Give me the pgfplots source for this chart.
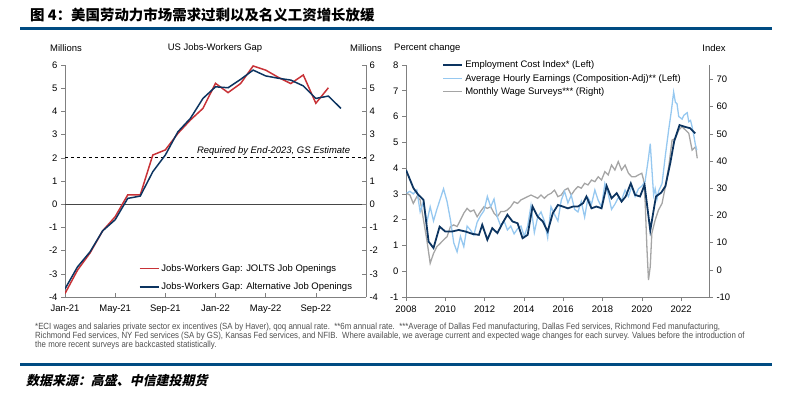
\documentclass[border=0pt]{standalone}
\usepackage{fontspec}
\setmainfont{Liberation Sans}
\newfontfamily\cjk{Noto Sans CJK SC}
\newfontfamily\cjksl{Noto Sans CJK SC}[FakeSlant=0.22]
\newfontfamily\narrowfont{Liberation Sans}[FakeStretch=0.875]
\usepackage{pgfplots}
\pgfplotsset{compat=1.18}
\definecolor{cRed}{RGB}{200,50,55}
\definecolor{cNavy}{RGB}{12,52,96}
\definecolor{cLight}{RGB}{150,200,240}
\definecolor{cGray}{RGB}{165,165,165}
\definecolor{cAxis}{RGB}{128,128,128}
\definecolor{cZero}{RGB}{70,70,70}
\definecolor{cRule}{RGB}{0,75,130}
\definecolor{cFoot}{RGB}{80,80,80}
\pgfplotsset{
  base/.style={
    scale only axis, anchor=south west, height=232bp,
    font=\fontsize{9.5}{11}\selectfont,
    /pgf/number format/assume math mode=true,
    /pgf/number format/1000 sep={},
    axis line style={-, cAxis, line width=0.8pt},
    tick style={cAxis, line width=0.6pt},
    major tick length=4bp,
    legend cell align=left,
    legend image code/.code={\draw[##1] (0bp,0bp) -- (19bp,0bp);},
  },
}
\begin{document}
\begin{tikzpicture}[x=1bp,y=1bp]
\path[use as bounding box] (0,0) rectangle (788,394);
% rules
\fill[cRule] (20,363.5) rectangle (772,366.5);
\fill[cRule] (20,28.5) rectangle (772,31.5);
\node[anchor=west, inner sep=0pt, font=\cjk\bfseries\fontsize{14.5}{16}\selectfont] at (30,379) {图 4：美国劳动力市场需求过剩以及名义工资增长放缓};
\node[anchor=west, inner sep=0pt, font=\cjksl\bfseries\fontsize{13}{15}\selectfont] at (26,13) {数据来源：高盛、中信建投期货};
% footnotes
\node[anchor=west, inner sep=0pt, text=cFoot, font=\narrowfont\fontsize{9}{9}\selectfont] at (35,67) {*ECI wages and salaries private sector ex incentives (SA by Haver), qoq annual rate.\ \ **6m annual rate.\ \ ***Average of Dallas Fed manufacturing, Dallas Fed services, Richmond Fed manufacturing,};
\node[anchor=west, inner sep=0pt, text=cFoot, font=\narrowfont\fontsize{9}{9}\selectfont] at (35,58) {Richmond Fed services, NY Fed services (SA by GS), Kansas Fed services, and NFIB.\ \ Where available, we average current and expected wage changes for each survey. Values before the introduction of};
\node[anchor=west, inner sep=0pt, text=cFoot, font=\narrowfont\fontsize{9}{9}\selectfont] at (35,49) {the more recent surveys are backcasted statistically.};
% titles
\node[font=\fontsize{9.5}{11}\selectfont] at (66,346) {Millions};
\node[font=\fontsize{9.5}{11}\selectfont] at (366,346) {Millions};
\node[font=\fontsize{9.5}{11}\selectfont] at (215,346) {US Jobs-Workers Gap};
\node[anchor=west, inner sep=0pt, font=\fontsize{9.5}{11}\selectfont] at (394,346) {Percent change};
\node[font=\fontsize{9.5}{11}\selectfont] at (714,346) {Index};

% ---------- left chart ----------
\begin{axis}[base, at={(65bp,97bp)}, width=301bp,
  xmin=0, xmax=24, ymin=-4, ymax=6,
  axis x line*=bottom, axis y line*=left,
  xtick={0,4,8,12,16,20},
  xticklabels={Jan-21,May-21,Sep-21,Jan-22,May-22,Sep-22},
  xticklabel style={yshift=-4.5bp},
  ytick={-4,-3,...,6},
  xtick align=inside, ytick align=outside,
  legend style={at={(0.235,0.158)}, anchor=north west, draw=none, fill=none,
    row sep=6bp, font=\fontsize{9.5}{11}\selectfont},
]
\addplot[black, dashed, line width=0.7pt, forget plot] coordinates {(0,2) (24,2)};
\addplot[cZero, line width=0.8pt, forget plot] coordinates {(0,0) (24,0)};
\addplot[cRed, line width=1.5pt] coordinates {
(0,-3.85)(1,-2.84)(2,-2.10)(3,-1.15)(4,-0.54)(5,0.40)(6,0.40)(7,2.12)(8,2.34)(9,3.05)(10,3.63)(11,4.13)
(12,5.21)(13,4.81)(14,5.20)(15,5.96)(16,5.78)(17,5.47)(18,5.20)(19,5.57)(20,4.35)(21,5.02)};
\addlegendentry{Jobs-Workers Gap: JOLTS Job Openings}
\addplot[cNavy, line width=1.5pt] coordinates {
(0,-3.65)(1,-2.70)(2,-2.05)(3,-1.15)(4,-0.67)(5,0.25)(6,0.35)(7,1.40)(8,2.12)(9,3.12)(10,3.70)(11,4.56)
(12,5.06)(13,5.02)(14,5.38)(15,5.78)(16,5.53)(17,5.43)(18,5.35)(19,5.10)(20,4.56)(21,4.66)(22,4.13)};
\addlegendentry{Jobs-Workers Gap: Alternative Job Openings}
\node[anchor=base east, inner sep=0pt, yshift=4.5bp, font=\itshape\fontsize{9.5}{11}\selectfont] at (axis cs:22.75,2) {Required by End-2023, GS Estimate};
\end{axis}
\begin{axis}[base, at={(65bp,97bp)}, width=301bp,
  xmin=0, xmax=24, ymin=-4, ymax=6,
  axis y line*=right, axis x line=none,
  ytick={-4,-3,...,6}, ytick align=inside,
]
\addplot[draw=none] coordinates {(0,0)};
\end{axis}

% ---------- right chart ----------
\begin{axis}[base, at={(406bp,97bp)}, width=303bp,
  xmin=2008, xmax=2023.42, ymin=-10, ymax=75.3,
  axis y line*=right, axis x line=none,
  ytick={-10,0,...,70}, ytick align=outside,
]
\addplot[cGray, line width=1.3pt] coordinates {
(2008.03,28.1)(2008.20,27.5)(2008.37,24.4)(2008.55,26.9)(2008.72,25.7)(2008.89,18.3)(2009.06,11.0)(2009.23,2.4)
(2009.40,6.0)(2009.57,8.5)(2009.74,9.7)(2009.91,11.0)(2010.09,12.2)(2010.26,15.9)(2010.43,16.5)(2010.60,15.9)
(2010.77,18.3)(2010.94,20.8)(2011.11,22.6)(2011.28,21.4)(2011.45,22.0)(2011.62,19.5)(2011.79,21.4)(2011.97,23.2)
(2012.14,22.6)(2012.31,23.2)(2012.48,20.8)(2012.65,19.5)(2012.82,21.4)(2012.99,21.4)(2013.16,22.0)(2013.33,23.2)
(2013.50,25.0)(2013.68,24.4)(2013.85,25.7)(2014.02,26.3)(2014.19,26.9)(2014.36,27.5)(2014.53,26.9)(2014.70,26.3)
(2014.87,27.5)(2015.04,26.3)(2015.21,27.5)(2015.38,28.1)(2015.56,29.3)(2015.73,26.9)(2015.90,27.5)(2016.07,29.3)
(2016.24,30.0)(2016.41,27.5)(2016.58,29.3)(2016.75,30.6)(2016.92,30.0)(2017.09,31.8)(2017.26,31.2)(2017.44,33.0)
(2017.61,32.4)(2017.78,34.2)(2017.95,33.0)(2018.12,36.1)(2018.29,34.9)(2018.46,38.5)(2018.63,36.7)(2018.80,39.8)
(2018.97,36.7)(2019.15,38.5)(2019.32,35.5)(2019.49,34.2)(2019.66,34.2)(2019.83,34.9)(2020.00,35.5)(2020.09,33.0)
(2020.17,25.0)(2020.26,8.0)(2020.34,-3.75)(2020.43,1.2)(2020.51,13.4)(2020.68,18.3)(2020.85,22.0)(2021.03,24.4)
(2021.20,30.6)(2021.37,37.9)(2021.54,47.7)(2021.71,48.3)(2021.88,51.4)(2022.05,52.6)(2022.22,51.4)(2022.39,50.2)
(2022.56,44.0)(2022.74,45.3)(2022.82,41.0)};
\end{axis}
\begin{axis}[base, at={(406bp,97bp)}, width=303bp,
  xmin=2008, xmax=2023.42, ymin=-1, ymax=8,
  axis y line*=left, axis x line*=bottom,
  xtick={2008,2010,...,2022}, ytick={-1,0,...,8},
  xticklabel style={yshift=-1.5bp},
  tick align=outside,
  legend style={at={(0.11,1.035)}, anchor=north west, draw=none, fill=none,
    row sep=0.8bp, font=\fontsize{9.5}{11}\selectfont},
]
\addlegendimage{cNavy, line width=1.8pt}
\addlegendentry{Employment Cost Index* (Left)}
\addplot[cLight, line width=1.3pt] coordinates {
(2008.03,3.03)(2008.20,3.10)(2008.37,3.00)(2008.55,3.15)(2008.72,2.30)(2008.89,2.70)(2009.06,1.90)(2009.23,2.50)
(2009.40,1.95)(2009.57,2.40)(2009.74,2.80)(2009.91,3.20)(2010.09,2.70)(2010.26,2.00)(2010.43,1.10)(2010.60,0.75)
(2010.77,1.35)(2010.94,0.95)(2011.11,1.75)(2011.28,1.60)(2011.45,1.40)(2011.62,1.90)(2011.79,2.15)(2011.97,2.35)
(2012.14,2.90)(2012.31,2.50)(2012.48,2.80)(2012.65,2.10)(2012.82,1.75)(2012.99,1.95)(2013.16,1.60)(2013.33,1.75)
(2013.50,1.45)(2013.68,1.65)(2013.85,1.75)(2014.02,1.35)(2014.19,1.75)(2014.36,2.55)(2014.53,1.50)(2014.70,2.10)
(2014.87,2.30)(2015.04,1.95)(2015.21,1.30)(2015.38,2.50)(2015.56,2.20)(2015.73,1.95)(2015.90,2.75)(2016.07,3.10)
(2016.24,2.65)(2016.41,2.95)(2016.58,2.40)(2016.75,2.30)(2016.92,2.70)(2017.09,2.10)(2017.26,2.85)(2017.44,2.60)
(2017.61,3.15)(2017.78,2.75)(2017.95,2.50)(2018.12,3.40)(2018.29,3.00)(2018.46,2.40)(2018.63,2.60)(2018.80,2.85)
(2018.97,2.75)(2019.15,3.15)(2019.32,2.90)(2019.49,3.30)(2019.66,2.90)(2019.83,3.20)(2020.00,3.30)(2020.17,3.50)
(2020.34,4.40)(2020.43,4.95)(2020.51,4.00)(2020.60,2.95)(2020.68,3.20)(2020.77,2.80)(2020.85,3.10)(2021.03,3.40)
(2021.20,4.50)(2021.37,5.50)(2021.50,6.20)(2021.62,6.95)(2021.71,6.55)(2021.79,6.50)(2021.88,6.00)(2021.97,5.95)
(2022.05,5.90)(2022.14,6.05)(2022.31,6.15)(2022.39,5.80)(2022.48,5.85)(2022.56,5.60)(2022.65,5.25)(2022.74,4.85)
(2022.80,4.70)};
\addlegendentry{Average Hourly Earnings (Composition-Adj)** (Left)}
\addlegendimage{cGray, line width=1.3pt}
\addlegendentry{Monthly Wage Surveys*** (Right)}
\addplot[cNavy, line width=1.8pt, forget plot] coordinates {
(2008.00,3.93)(2008.38,3.22)(2008.63,2.96)(2008.89,2.77)(2009.15,1.15)(2009.40,0.90)(2009.71,1.73)(2010.00,1.54)
(2010.34,1.54)(2010.68,1.60)(2011.03,1.54)(2011.37,1.45)(2011.71,1.41)(2011.88,1.80)(2012.14,1.22)(2012.39,1.67)
(2012.65,1.48)(2012.91,1.86)(2013.16,2.19)(2013.42,1.93)(2013.68,1.86)(2013.93,1.28)(2014.19,1.41)(2014.44,2.51)
(2014.70,2.12)(2014.96,1.93)(2015.21,1.54)(2015.47,2.25)(2015.73,2.57)(2015.98,2.51)(2016.24,2.44)(2016.50,2.51)
(2016.75,2.51)(2017.01,2.64)(2017.18,2.90)(2017.44,2.44)(2017.69,2.51)(2017.95,2.44)(2018.21,3.31)(2018.46,2.83)
(2018.72,3.03)(2018.97,2.70)(2019.18,2.90)(2019.44,3.41)(2019.66,2.96)(2019.91,2.90)(2020.14,3.35)(2020.43,1.58)
(2020.72,2.90)(2020.99,3.05)(2021.20,3.30)(2021.45,4.20)(2021.65,5.05)(2021.92,5.67)(2022.20,5.60)(2022.45,5.55)
(2022.72,5.35)};
\end{axis}
\end{tikzpicture}
\end{document}
